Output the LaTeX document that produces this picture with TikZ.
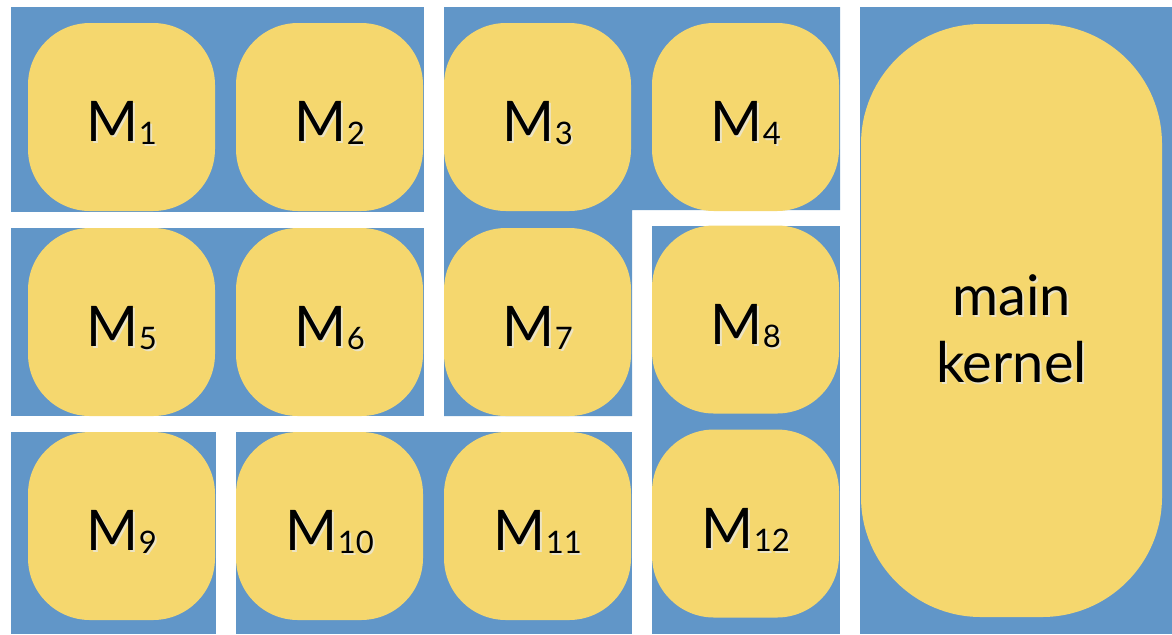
\documentclass[tikz,border=0pt]{standalone}
\usepackage{fontspec}
\setmainfont{Lato}

\definecolor{tileblue}{RGB}{97,150,200}
\definecolor{blobyellow}{RGB}{245,215,110}
\definecolor{txtshadow}{RGB}{236,228,196}

% text with a light drop shadow, and module labels M_n
\newcommand{\shadowed}[1]{\leavevmode\rlap{\kern1pt\raisebox{-1pt}{\color{txtshadow}#1}}#1}
\newcommand{\mlab}[1]{M\kern0.3pt\raisebox{-1.5pt}{\fontsize{15.5}{15.5}\selectfont #1}}

\begin{document}
\begin{tikzpicture}[x=0.5pt, y=-0.5pt]

  \tikzset{
    tile/.style={fill=tileblue},
    blob/.style={fill=blobyellow, rounded corners=31pt, inner sep=0pt,
      minimum width=93.5pt, minimum height=94pt,
      font=\fontsize{28}{33.5}\selectfont, text height=29.5pt, text depth=5pt}
  }

  \useasboundingbox (0,0) rectangle (1172,634);

  % --- BLUE TILES (groups of modules) ---
  \fill[tile] (11,7) rectangle (424,212);     % M1, M2
  \fill[tile] (444,7) -- (840,7) -- (840,210) -- (632,210)
              -- (632,416) -- (444,416) -- cycle; % M3, M4, M7
  \fill[tile] (11,228) rectangle (424,416);   % M5, M6
  \fill[tile] (652,226) rectangle (840,634);  % M8, M12
  \fill[tile] (11,432) rectangle (216,634);   % M9
  \fill[tile] (236,432) rectangle (632,634);  % M10, M11
  \fill[tile] (860,7) rectangle (1172,634);   % main kernel

  % --- MODULES ---
  \node[blob] (m1)  at (121.5,117)   {\shadowed{\mlab{1}}};
  \node[blob] (m2)  at (329.5,117)   {\shadowed{\mlab{2}}};
  \node[blob] (m3)  at (537.5,117)   {\shadowed{\mlab{3}}};
  \node[blob] (m4)  at (745.5,117)   {\shadowed{\mlab{4}}};
  \node[blob] (m5)  at (121.5,322)   {\shadowed{\mlab{5}}};
  \node[blob] (m6)  at (329.5,322)   {\shadowed{\mlab{6}}};
  \node[blob] (m7)  at (537.5,322)   {\shadowed{\mlab{7}}};
  \node[blob] (m8)  at (745.5,319.5) {\shadowed{\mlab{8}}};
  \node[blob] (m9)  at (121.5,526)   {\shadowed{\mlab{9}}};
  \node[blob] (m10) at (329.5,526)   {\shadowed{\mlab{10}}};
  \node[blob] (m11) at (537.5,526)   {\shadowed{\mlab{11}}};
  \node[blob] (m12) at (745.5,523.5) {\shadowed{\mlab{12}}};

  % --- MAIN KERNEL ---
  \node[blob, minimum width=150.5pt, minimum height=296.5pt,
        rounded corners=60pt] (kernel) at (1011.5,320.5) {};
  \node[font=\fontsize{28}{33.5}\selectfont, align=center, inner sep=0pt]
        (kernellbl) at ([yshift=-4.5pt]kernel.center) {\shadowed{main}\\\shadowed{kernel}};

\end{tikzpicture}
\end{document}
